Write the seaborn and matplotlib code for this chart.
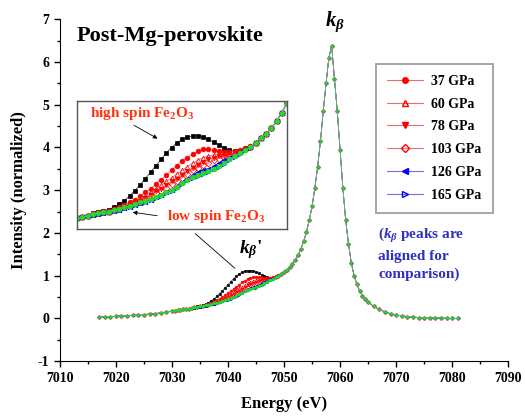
import numpy as np
import pandas as pd
import matplotlib
matplotlib.use("Agg")
import matplotlib.pyplot as plt
from matplotlib.lines import Line2D
from matplotlib.ticker import MultipleLocator
import seaborn as sns

# grille en energie (pas fin autour de la raie k_beta)
energy = np.concatenate([np.arange(7017, 7030, 1.0),
                         np.arange(7030, 7065, 0.5),
                         np.arange(7065, 7082, 1.0)])

# courbe commune (Fe2O3 bas spin)
base_intensity = [
    0.03, 0.04, 0.04, 0.05, 0.06, 0.06, 0.07, 0.08, 0.09, 0.10, 0.11, 0.13, 0.15,
    0.17, 0.18, 0.19, 0.20, 0.21, 0.22, 0.23, 0.24, 0.26, 0.27,
    0.28, 0.29, 0.31, 0.32, 0.34, 0.35, 0.37, 0.39, 0.41, 0.43,
    0.45, 0.47, 0.50, 0.53, 0.56, 0.60, 0.64, 0.67, 0.69, 0.71,
    0.73, 0.76, 0.79, 0.82, 0.86, 0.90, 0.93, 0.96, 1.00, 1.04,
    1.09, 1.14, 1.20, 1.28, 1.37, 1.48, 1.62, 1.80, 2.02, 2.30,
    2.62, 3.05, 3.55, 4.15, 4.85, 5.50, 6.10, 6.38, 5.60, 4.85,
    3.95, 3.05, 2.30, 1.75, 1.30, 1.00, 0.80, 0.64, 0.53, 0.45,
    0.38, 0.28, 0.21, 0.15, 0.11, 0.08, 0.06, 0.04, 0.03, 0.02, 0.02, 0.01,
    0.01, 0.01, 0.00, 0.00, 0.00,
]

# zone du satellite k_beta' (7034 -> 7049 eV) : valeurs propres a chaque serie
sat_energy = np.arange(7034, 7049.5, 0.5)
sat_high_spin = [0.27, 0.28, 0.30, 0.31, 0.34, 0.37, 0.41, 0.46, 0.52, 0.58, 0.65,
                 0.72, 0.79, 0.86, 0.93, 0.99, 1.04, 1.08, 1.10, 1.12, 1.12,
                 1.11, 1.08, 1.05, 1.02, 0.99, 0.96, 0.95, 0.95, 0.97, 1.00]
sat_37 = [0.26, 0.27, 0.28, 0.30, 0.32, 0.34, 0.36, 0.39, 0.42, 0.46, 0.50,
          0.54, 0.59, 0.64, 0.69, 0.74, 0.79, 0.84, 0.88, 0.92, 0.95,
          0.97, 0.97, 0.96, 0.95, 0.94, 0.94, 0.95, 0.96, 0.98, 1.01]
sat_60 = [0.26, 0.27, 0.28, 0.29, 0.31, 0.33, 0.35, 0.37, 0.40, 0.43, 0.46,
          0.50, 0.54, 0.58, 0.62, 0.66, 0.70, 0.74, 0.78, 0.82, 0.85,
          0.88, 0.90, 0.91, 0.92, 0.92, 0.92, 0.93, 0.95, 0.97, 1.00]
sat_78 = [0.26, 0.27, 0.28, 0.29, 0.31, 0.32, 0.34, 0.36, 0.39, 0.41, 0.44,
          0.47, 0.51, 0.54, 0.58, 0.62, 0.65, 0.69, 0.73, 0.77, 0.80,
          0.83, 0.86, 0.88, 0.90, 0.90, 0.91, 0.92, 0.94, 0.97, 1.00]
sat_103 = [0.26, 0.27, 0.28, 0.29, 0.31, 0.32, 0.34, 0.36, 0.38, 0.40, 0.43,
           0.46, 0.49, 0.52, 0.55, 0.59, 0.62, 0.66, 0.70, 0.74, 0.77,
           0.80, 0.82, 0.85, 0.87, 0.89, 0.90, 0.92, 0.94, 0.97, 1.00]
sat_126 = [0.25, 0.26, 0.27, 0.28, 0.30, 0.31, 0.33, 0.34, 0.36, 0.38, 0.40,
           0.42, 0.45, 0.47, 0.50, 0.53, 0.57, 0.61, 0.65, 0.69, 0.72,
           0.74, 0.76, 0.79, 0.82, 0.85, 0.88, 0.91, 0.94, 0.97, 1.00]
sat_165 = [0.25, 0.26, 0.27, 0.28, 0.30, 0.31, 0.33, 0.34, 0.36, 0.38, 0.40,
           0.42, 0.44, 0.46, 0.49, 0.52, 0.55, 0.59, 0.63, 0.66, 0.68,
           0.70, 0.72, 0.75, 0.78, 0.81, 0.85, 0.89, 0.92, 0.96, 0.99]

# (nom, valeurs satellite, marqueur, couleur marqueur, couleur ligne, plein, legende)
series = [
    ("high spin", sat_high_spin, "s", "black", "#444444", True, False),
    ("37 GPa", sat_37, "o", "#ff0000", "#e07070", True, True),
    ("60 GPa", sat_60, "^", "#ff0000", "#e07070", False, True),
    ("78 GPa", sat_78, "v", "#ff0000", "#e07070", True, True),
    ("103 GPa", sat_103, "D", "#ff0000", "#e07070", False, True),
    ("126 GPa", sat_126, "<", "#0000ff", "#7070e0", True, True),
    ("165 GPa", sat_165, ">", "#0000ff", "#7070e0", False, True),
    ("low spin", None, "o", "#22dd22", "#55cc55", True, False),
]

# tableau long : une ligne par point et par serie
frames = []
mask = np.isin(energy, sat_energy)
for name, sat, *_ in series:
    y = np.array(base_intensity, dtype=float)
    if sat is not None:
        y[mask] = sat
    frames.append(pd.DataFrame({"energy": energy, "intensity": y, "sample": name}))
df = pd.concat(frames, ignore_index=True)

# style
sns.set_style("ticks")
plt.rcParams["font.family"] = ["Liberation Serif", "DejaVu Serif"]
plt.rcParams["font.weight"] = "bold"
plt.rcParams["axes.unicode_minus"] = False
plt.rcParams["text.color"] = "black"
plt.rcParams["axes.labelcolor"] = "black"
plt.rcParams["axes.edgecolor"] = "black"
plt.rcParams["xtick.color"] = "black"
plt.rcParams["ytick.color"] = "black"
plt.rcParams["mathtext.fontset"] = "custom"
plt.rcParams["mathtext.rm"] = "Liberation Serif:bold"
plt.rcParams["mathtext.it"] = "Liberation Serif:bold:italic"
plt.rcParams["mathtext.bf"] = "Liberation Serif:bold"


def draw_series(ax, msize, lw):
    for name, sat, marker, mcol, lcol, filled, _ in series:
        sub = df[df["sample"] == name]
        sns.lineplot(data=sub, x="energy", y="intensity", ax=ax, color=lcol,
                     linewidth=lw, marker=marker, markersize=msize,
                     markerfacecolor=mcol if filled else "none",
                     markeredgecolor=mcol, markeredgewidth=0.5)


fig = plt.figure(figsize=(5.25, 4.17), dpi=100)
ax = fig.add_axes([0.114, 0.134, 0.854, 0.820])
draw_series(ax, 1.9, 0.5)

ax.set_xlim(7010, 7090)
ax.set_ylim(-1, 7)
ax.xaxis.set_major_locator(MultipleLocator(10))
ax.xaxis.set_minor_locator(MultipleLocator(5))
ax.yaxis.set_major_locator(MultipleLocator(1))
ax.yaxis.set_minor_locator(MultipleLocator(0.5))
ax.tick_params(which="both", direction="out", labelsize=10, width=1)
ax.tick_params(which="major", length=4)
ax.tick_params(which="minor", length=2.5)
sns.despine(ax=ax)
ax.set_xlabel("Energy (eV)", fontsize=12, fontweight="bold", labelpad=8)
ax.set_ylabel("Intensity (normalized)", fontsize=12, fontweight="bold", labelpad=8)

# textes
ax.text(7013.0, 6.6, "Post-Mg-perovskite", fontsize=16, fontweight="bold", va="center")
ax.text(7059.0, 6.95, r"$k_\beta$", fontsize=15, ha="center", va="center")
ax.text(7044.0, 1.6, r"$k_\beta$'", fontsize=14, ha="center", va="center")
ax.text(7066.8, 2.15, "($k_\\beta$ peaks are\naligned for\ncomparison)",
        fontsize=11, color="#2f2fc0", va="top", linespacing=1.45)

# legende (seulement les pressions)
handles = []
for name, sat, marker, mcol, lcol, filled, in_leg in series:
    if in_leg:
        handles.append(Line2D([], [], color=lcol, linewidth=0.8, marker=marker,
                              markersize=4, markerfacecolor=mcol if filled else "none",
                              markeredgecolor=mcol, label=name))
leg = ax.legend(handles=handles, loc="upper left", bbox_to_anchor=(0.716, 0.847),
                bbox_transform=fig.transFigure, borderaxespad=0, frameon=True,
                fancybox=False, fontsize=10, handlelength=2.6, labelspacing=0.7,
                borderpad=0.8, handletextpad=0.6)
leg.get_frame().set_edgecolor("#888888")
leg.get_frame().set_linewidth(1.3)

# trait entre l'encart et le satellite
ax.annotate("", xy=(7041.6, 1.13), xytext=(0.368, 0.444), textcoords="figure fraction",
            arrowprops=dict(arrowstyle="-", lw=0.6, color="black"))

# encart : zoom sur le satellite k_beta'
axin = fig.add_axes([0.1467, 0.451, 0.400, 0.307])
draw_series(axin, 3.4, 0.6)
axin.set_xlim(7032.5, 7052.5)
axin.set_ylim(0.1, 1.5)
axin.set_xticks([])
axin.set_yticks([])
axin.set_xlabel("")
axin.set_ylabel("")
for sp in axin.spines.values():
    sp.set_color("#555555")
    sp.set_linewidth(1.0)

axin.text(0.06, 0.9, "high spin Fe$_2$O$_3$", transform=axin.transAxes,
          fontsize=11, color="#ff3311", va="center")
axin.annotate("", xy=(0.395, 0.695), xytext=(0.26, 0.82), xycoords="axes fraction",
              textcoords="axes fraction",
              arrowprops=dict(arrowstyle="-|>", lw=0.6, color="black", mutation_scale=6))
axin.text(0.43, 0.094, "low spin Fe$_2$O$_3$", transform=axin.transAxes,
          fontsize=11, color="#ff3311", va="center")
axin.annotate("", xy=(0.252, 0.133), xytext=(0.395, 0.10), xycoords="axes fraction",
              textcoords="axes fraction",
              arrowprops=dict(arrowstyle="-|>", lw=0.6, color="black", mutation_scale=6))

fig.savefig("out.png", dpi=100)
